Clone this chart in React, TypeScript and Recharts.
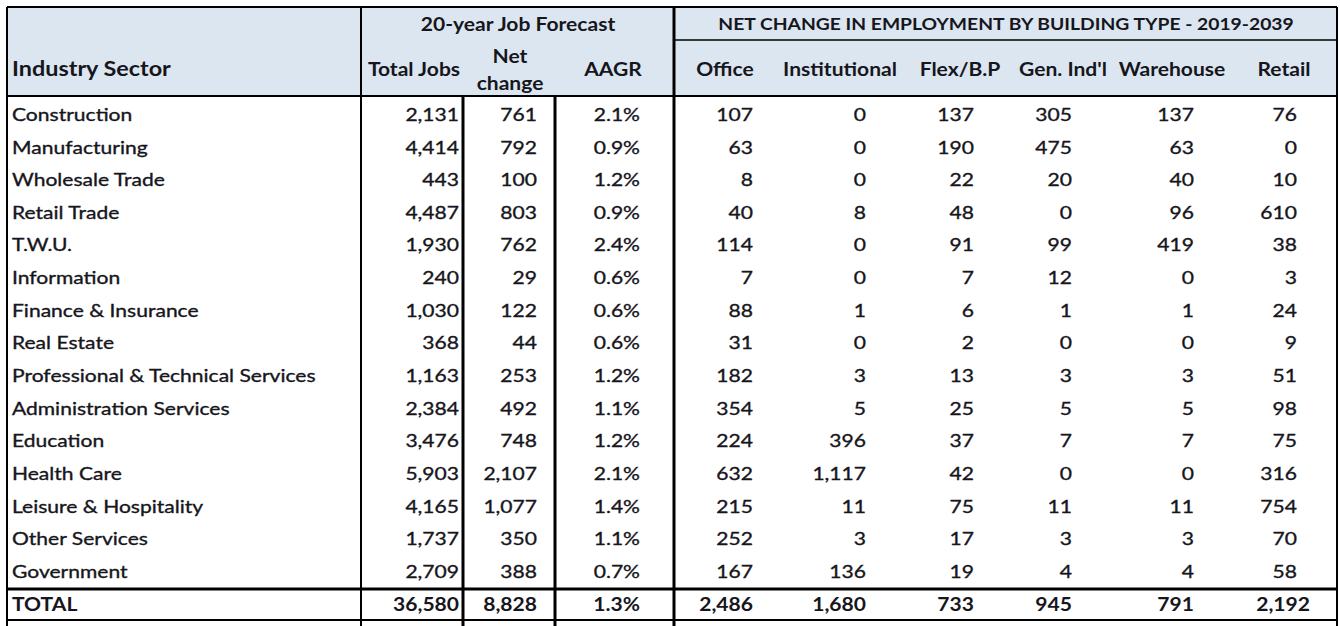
import React from 'react';
import { ScatterChart, Scatter, XAxis, YAxis, ReferenceLine, ReferenceArea } from 'recharts';

const sectors = [
  'Construction',
  'Manufacturing',
  'Wholesale Trade',
  'Retail Trade',
  'T.W.U.',
  'Information',
  'Finance & Insurance',
  'Real Estate',
  'Professional & Technical Services',
  'Administration Services',
  'Education',
  'Health Care',
  'Leisure & Hospitality',
  'Other Services',
  'Government',
];

const totalJobs = [2131, 4414, 443, 4487, 1930, 240, 1030, 368, 1163, 2384, 3476, 5903, 4165, 1737, 2709];
const netChange = [761, 792, 100, 803, 762, 29, 122, 44, 253, 492, 748, 2107, 1077, 350, 388];
const aagr = [2.1, 0.9, 1.2, 0.9, 2.4, 0.6, 0.6, 0.6, 1.2, 1.1, 1.2, 2.1, 1.4, 1.1, 0.7];
const office = [107, 63, 8, 40, 114, 7, 88, 31, 182, 354, 224, 632, 215, 252, 167];
const institutional = [0, 0, 0, 8, 0, 0, 1, 0, 3, 5, 396, 1117, 11, 3, 136];
const flexBP = [137, 190, 22, 48, 91, 7, 6, 2, 13, 25, 37, 42, 75, 17, 19];
const genIndl = [305, 475, 20, 0, 99, 12, 1, 0, 3, 5, 7, 0, 11, 3, 4];
const warehouse = [137, 63, 40, 96, 419, 0, 1, 0, 3, 5, 7, 0, 11, 3, 4];
const retail = [76, 0, 10, 610, 38, 3, 24, 9, 51, 98, 75, 316, 754, 70, 58];

// TOTAL row as printed (rounded, so not always the column sums)
const totals = [36580, 8828, 1.3, 2486, 1680, 733, 945, 791, 2192];

const groupTitles = ['20-year Job Forecast', 'NET CHANGE IN EMPLOYMENT BY BUILDING TYPE - 2019-2039'];

// page sized chart, axes map 1:1 onto pixels
const W = 1340;
const H = 626;
const FONT = 'Lato, "Open Sans", sans-serif';
const INK = '#16161c';
const HEAD_BG = '#dce6f1';
const STRETCH = 1.17; // the source table is a horizontally stretched screenshot

const TOP = 7;
const SUB_LINE = 40;
const HEAD_BOTTOM = 96;
const TOTAL_LINE = 589;
const BOTTOM = 620;
const ROW_Y0 = 114;
const ROW_STEP = 32.64;
const TOTAL_Y = 604;

const int = (v: number) => v.toLocaleString('en-US');
const pct = (v: number) => v.toFixed(1) + '%';

const columns = [
  { values: totalJobs, fmt: int, right: 459, head: ['Total Jobs'], headX: 414 },
  { values: netChange, fmt: int, right: 537, head: ['Net', 'change'], headX: 510 },
  { values: aagr, fmt: pct, right: 640, head: ['AAGR'], headX: 613 },
  { values: office, fmt: int, right: 753, head: ['Office'], headX: 725 },
  { values: institutional, fmt: int, right: 866, head: ['Institutional'], headX: 840 },
  { values: flexBP, fmt: int, right: 974, head: ['Flex/B.P'], headX: 960 },
  { values: genIndl, fmt: int, right: 1072, head: ["Gen. Ind'l"], headX: 1063 },
  { values: warehouse, fmt: int, right: 1194, head: ['Warehouse'], headX: 1172 },
  { values: retail, fmt: int, right: 1297, head: ['Retail'], headX: 1284 },
];

type Cell = { x: number; y: number; text: string; anchor: string; bold?: boolean; size?: number };

const bodyCells: Cell[] = [];
sectors.forEach((s, i) => {
  const y = ROW_Y0 + i * ROW_STEP;
  bodyCells.push({ x: 12, y, text: s, anchor: 'start' });
  columns.forEach((c) => {
    bodyCells.push({ x: c.right, y, text: c.fmt(c.values[i]), anchor: 'end' });
  });
});

const totalCells: Cell[] = [{ x: 12, y: TOTAL_Y, text: 'TOTAL', anchor: 'start', bold: true }];
columns.forEach((c, j) => {
  const right = j === columns.length - 1 ? 1310 : c.right;
  totalCells.push({ x: right, y: TOTAL_Y, text: c.fmt(totals[j]), anchor: 'end', bold: true });
});

const headCells: Cell[] = [
  { x: 12, y: 69, text: 'Industry Sector', anchor: 'start', bold: true, size: 20 },
  { x: 518, y: 24, text: groupTitles[0], anchor: 'middle', bold: true },
  { x: 1006, y: 24, text: groupTitles[1], anchor: 'middle', bold: true, size: 16.5 },
];
columns.forEach((c) => {
  if (c.head.length === 1) {
    headCells.push({ x: c.headX, y: 69, text: c.head[0], anchor: 'middle', bold: true });
  } else {
    headCells.push({ x: c.headX, y: 56, text: c.head[0], anchor: 'middle', bold: true });
    headCells.push({ x: c.headX, y: 83, text: c.head[1], anchor: 'middle', bold: true });
  }
});

const TextCell = (props: any) => {
  const { cx, cy, payload } = props;
  return (
    <text
      transform={`translate(${cx},${cy}) scale(${STRETCH},1)`}
      x={0}
      y={0}
      textAnchor={payload.anchor}
      dominantBaseline="central"
      fontFamily={FONT}
      fontSize={payload.size || 18}
      fontWeight={payload.bold ? 700 : 400}
      fill={INK}
      stroke={payload.bold ? 'none' : INK}
      strokeWidth={0.35}
    >
      {payload.text}
    </text>
  );
};

const hLines = [
  { x1: 7, x2: 1337, y: TOP, w: 2 },
  { x1: 674, x2: 1337, y: SUB_LINE, w: 1.5 },
  { x1: 7, x2: 1337, y: HEAD_BOTTOM, w: 2 },
  { x1: 7, x2: 1337, y: TOTAL_LINE, w: 3 },
  { x1: 7, x2: 1337, y: BOTTOM, w: 2 },
];

const vLines = [
  { x: 7, y1: TOP, y2: H, w: 2 },
  { x: 361, y1: TOP, y2: H, w: 2 },
  { x: 463, y1: HEAD_BOTTOM, y2: H, w: 3 },
  { x: 555, y1: HEAD_BOTTOM, y2: H, w: 3 },
  { x: 674, y1: TOP, y2: H, w: 3 },
  { x: 1337, y1: TOP, y2: H, w: 2 },
];

export default function App() {
  return (
    <div style={{ position: 'absolute', left: 0, top: 0, width: W, height: H, background: '#fff' }}>
      <ScatterChart width={W} height={H} margin={{ top: 0, right: 0, bottom: 0, left: 0 }}>
        <XAxis type="number" dataKey="x" domain={[0, W]} allowDataOverflow hide />
        <YAxis type="number" dataKey="y" domain={[0, H]} allowDataOverflow reversed hide />
        <ReferenceArea x1={7} x2={1337} y1={TOP} y2={HEAD_BOTTOM} fill={HEAD_BG} fillOpacity={1} stroke="none" ifOverflow="visible" />
        {hLines.map((l, i) => (
          <ReferenceLine key={'h' + i} segment={[{ x: l.x1, y: l.y }, { x: l.x2, y: l.y }]} stroke="#000" strokeWidth={l.w} ifOverflow="visible" />
        ))}
        {vLines.map((l, i) => (
          <ReferenceLine key={'v' + i} segment={[{ x: l.x, y: l.y1 }, { x: l.x, y: l.y2 }]} stroke="#000" strokeWidth={l.w} ifOverflow="visible" />
        ))}
        <Scatter data={headCells} shape={TextCell} isAnimationActive={false} />
        <Scatter data={bodyCells} shape={TextCell} isAnimationActive={false} />
        <Scatter data={totalCells} shape={TextCell} isAnimationActive={false} />
      </ScatterChart>
    </div>
  );
}
